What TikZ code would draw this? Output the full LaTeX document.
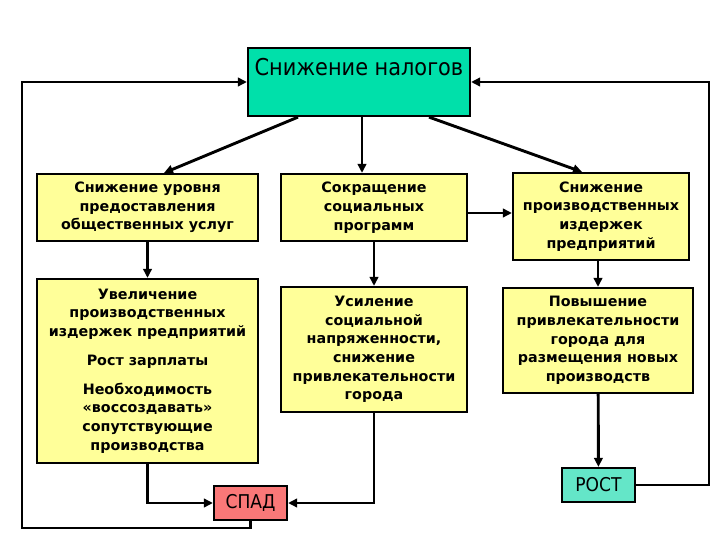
\documentclass[tikz,border=0pt]{standalone}
\usepackage{fontspec}
\setmainfont{DejaVu Sans}
\newfontfamily\narrowfont{DejaVu Sans Condensed}
\usetikzlibrary{arrows.meta,positioning,calc}
\definecolor{taxgreen}{RGB}{0,224,170}
\definecolor{boxyellow}{RGB}{255,255,153}
\definecolor{fallred}{RGB}{250,120,120}
\definecolor{growgreen}{RGB}{100,230,200}

\begin{document}
\begin{tikzpicture}[x=1pt, y=-1pt,
  every node/.style={font=\fontsize{14.3}{18.7}\selectfont\bfseries, align=center},
  ybox/.style={draw, line width=2.2pt, fill=boxyellow, inner sep=0pt},
  cbox/.style={draw, line width=2.2pt, inner sep=0pt, font=\narrowfont\fontsize{19}{22}\selectfont},
  arr/.style={line width=2.9pt, -{Triangle[length=9pt,width=8.5pt]}}]
\useasboundingbox (0,0) rectangle (720,540);
% ---- top
\node[cbox, fill=taxgreen, minimum width=222pt, minimum height=68pt,
  font=\narrowfont\fontsize{23.2}{28}\selectfont, text height=18pt, text depth=30pt]
  (tax) at (359,82) {Снижение налогов};
% ---- first row
\node[ybox, minimum width=221pt, minimum height=67pt] (cut1) at (147.5,207.5)
  {Снижение уровня\\ предоставления\\ общественных услуг};
\node[ybox, minimum width=186pt, minimum height=67pt] (cut2) at (374,207.5)
  {Сокращение\\ социальных\\ программ};
\node[ybox, minimum width=176pt, minimum height=87pt] (cost1) at (601,216.5)
  {Снижение\\ производственных\\ издержек\\ предприятий};
% ---- second row
\node[ybox, minimum width=221pt, minimum height=184pt] (cost2) at (147.5,371)
  {Увеличение\\ производственных\\ издержек предприятий\\[10pt]
   Рост зарплаты\\[10pt]
   Необходимость\\ «воссоздавать»\\ сопутствующие\\ производства};
\node[ybox, minimum width=186pt, minimum height=125pt] (tension) at (374,349.5)
  {Усиление\\ социальной\\ напряженности,\\ снижение\\ привлекательности\\ города};
\node[ybox, minimum width=190pt, minimum height=105pt] (attract) at (598,340.5)
  {Повышение\\ привлекательности\\ города для\\ размещения новых\\ производств};
% ---- outcomes
\node[cbox, fill=fallred, minimum width=73pt, minimum height=34pt] (fall) at (250.5,503) {СПАД};
\node[cbox, fill=growgreen, minimum width=73pt, minimum height=34pt] (growth) at (598.5,485) {РОСТ};
\coordinate (lbot) at (22,528);
\coordinate (rtop) at (709,82);
% ---- arrows
\draw[arr] ([xshift=-61pt]tax.south) -- ([xshift=16.5pt]cut1.north);
\draw[arr] ([xshift=3pt]tax.south) -- ([xshift=-12pt]cut2.north);
\draw[arr] ([xshift=70pt]tax.south) -- ([xshift=-19pt]cost1.north);
\draw[arr] ([yshift=-5.5pt]cut2.east) -- ([yshift=3.5pt]cost1.west);
\draw[arr] (cut1) -- (cost2);
\draw[arr] (cut2) -- (tension);
\draw[arr] (cost1.south -| attract) -- (attract.north);
\draw[arr] (attract) -- (growth);
\draw[arr] (cost2.south) |- (fall.west);
\draw[arr] (tension.south) |- (fall.east);
\draw[arr] (fall.south) |- (lbot) |- (tax.west);
\draw[arr] (growth.east) -| (rtop) -- (tax.east);
\end{tikzpicture}
\end{document}
